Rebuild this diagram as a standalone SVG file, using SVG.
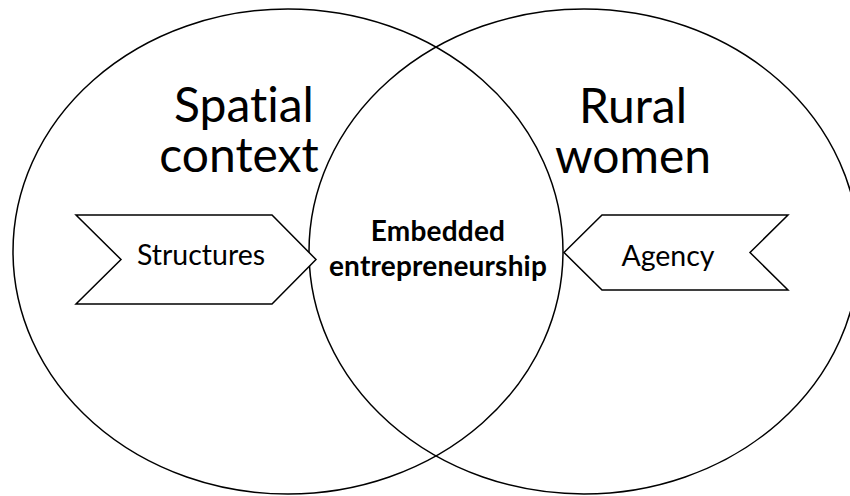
<svg xmlns="http://www.w3.org/2000/svg" width="850" height="496" viewBox="0 0 850 496">
<style>
text{font-family:Lato,"Liberation Sans",sans-serif;fill:#000;text-anchor:middle;font-variant-ligatures:none;font-feature-settings:"liga" 0}
.ring{fill:none;stroke:#000;stroke-width:1.5}
.chev{fill:#fff;stroke:#000;stroke-width:1.5;stroke-linejoin:miter}
.big{font-size:48px}
.mid{font-size:28.5px}
.bold{font-size:28px;font-weight:bold;letter-spacing:0.2px}
</style>
<rect width="850" height="496" fill="#fff"/>
<g id="left-circle">
<ellipse class="ring" cx="288" cy="251.5" rx="275" ry="242.5"/>
<text class="big" x="244" y="122">Spatial</text>
<text class="big" x="239" y="172">context</text>
</g>
<g id="right-circle">
<ellipse class="ring" cx="584" cy="251.5" rx="275" ry="242.5"/>
<text class="big" x="633" y="123">Rural</text>
<text class="big" x="633" y="173">women</text>
</g>
<g id="connectors">
<g id="structures">
<polygon class="chev" points="76,215 272,215 316,259.5 272,304 76,304 121,259.5"/>
<text class="mid" x="201" y="265">Structures</text>
</g>
<g id="agency">
<polygon class="chev" points="564,252.5 602,215 788,215 750,252.5 788,290 602,290"/>
<text class="mid" x="668" y="266">Agency</text>
</g>
</g>
<g id="intersection">
<text class="bold" x="438" y="241">Embedded</text>
<text class="bold" x="438" y="276">entrepreneurship</text>
</g>
</svg>
